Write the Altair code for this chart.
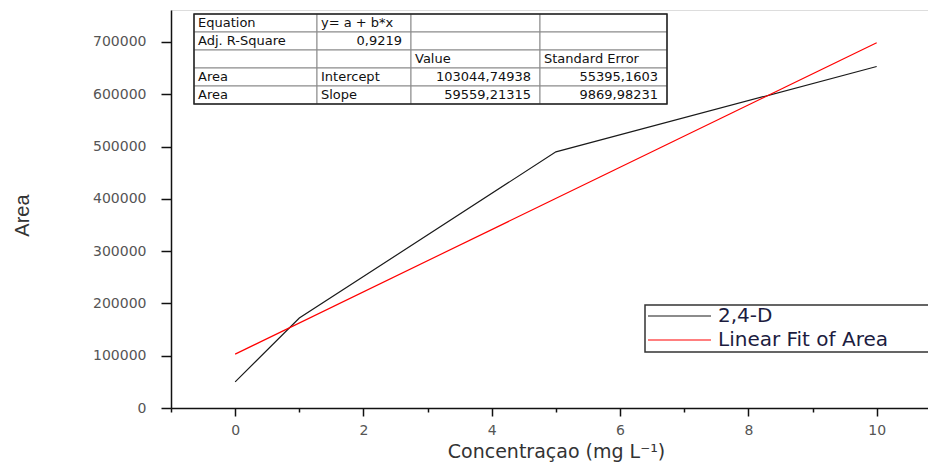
import altair as alt
import pandas as pd

# ---------------- data ----------------
conc = [0, 1, 5, 10]
area = [50000, 172000, 490000, 653100]

table_rows = [
    ["Equation", "y= a + b*x", "", ""],
    ["Adj. R-Square", "0,9219", "", ""],
    ["", "", "Value", "Standard Error"],
    ["Area", "Intercept", "103044,74938", "55395,1603"],
    ["Area", "Slope", "59559,21315", "9869,98231"],
]
table_align = [
    ["left", "left", "left", "left"],
    ["left", "right", "left", "left"],
    ["left", "left", "left", "left"],
    ["left", "left", "right", "right"],
    ["left", "left", "right", "right"],
]
legend_labels = ["2,4-D", "Linear Fit of Area"]

x_ticks = list(range(-1, 11))
y_ticks = list(range(0, 760000, 50000))

# ---------------- layout (pixels) ----------------
PL, PT = 171, 10           # plot origin on page
W, H = 757, 398
col_edges = [194, 317, 411, 540, 667]
row_edges = [14, 32, 50, 68, 86, 104]
legend_colors = ["#1a1a1a", "#ff0000"]
legend_rows_y = [316, 340]
legend_line_x = [648, 711]
legend_text_x = 718

df = pd.DataFrame({"conc": conc, "area": area})

cells = []
for r, row in enumerate(table_rows):
    for c, txt in enumerate(row):
        x0 = col_edges[c] - PL
        x1 = col_edges[c + 1] - PL
        y0 = row_edges[r] - PT
        y1 = row_edges[r + 1] - PT
        al = table_align[r][c]
        cells.append({
            "x0": x0, "x1": x1, "y0": y0, "y1": y1,
            "tx": x0 + 4 if al == "left" else x1 - 9,
            "ty": (y0 + y1) / 2, "txt": txt, "al": al,
        })
cells = pd.DataFrame(cells)

leg = pd.DataFrame({
    "label": legend_labels,
    "color": legend_colors,
    "y": [v - PT for v in legend_rows_y],
    "lx0": [legend_line_x[0] - PL] * 2,
    "lx1": [legend_line_x[1] - PL] * 2,
    "tx": [legend_text_x - PL] * 2,
})

FONT = "DejaVu Sans"

x_axis = alt.Axis(
    values=x_ticks, format="d",
    labelExpr="datum.value >= 0 && datum.value % 2 == 0 ? datum.label : ''",
    tickSize={"condition": {"test": "datum.value % 2 == 0", "value": 8}, "value": 4},
    grid=False, domainColor="#111", domainWidth=1.5, tickColor="#111", tickWidth=1.5,
    labelColor="#555", labelFont=FONT, labelFontSize=14, labelPadding=7,
    labelOverlap=False, labelFlush=False,
    title="Concentraçao (mg L⁻¹)", titleFont=FONT, titleFontSize=19,
    titleFontWeight="normal", titleColor="#333",
    titleX=385, titleY=43, titleBaseline="middle", titleAlign="center",
)
y_axis = alt.Axis(
    values=y_ticks, format="d",
    labelExpr="datum.value % 100000 == 0 ? datum.label : ''",
    tickSize={"condition": {"test": "datum.value % 100000 == 0", "value": 10}, "value": 5},
    grid=False, domainColor="#111", domainWidth=1.5, tickColor="#111", tickWidth=1.5,
    labelColor="#555", labelFont=FONT, labelFontSize=14, labelPadding=15,
    labelOverlap=False, labelFlush=False,
    title="Area", titleFont="Liberation Sans", titleFontSize=20,
    titleFontWeight="normal", titleColor="#333",
    titleX=22 - PL, titleY=215 - PT, titleAngle=270,
    titleBaseline="middle", titleAlign="center",
)

base = alt.Chart(df)
xs = alt.Scale(domain=[-1, 10.8], nice=False, zero=False)
ys = alt.Scale(domain=[0, 761200], nice=False)

line = base.mark_line(color="#1a1a1a", strokeWidth=1.2).encode(
    x=alt.X("conc:Q", scale=xs, axis=x_axis),
    y=alt.Y("area:Q", scale=ys, axis=y_axis),
)
fit = base.transform_regression("conc", "area", extent=[0, 10]).mark_line(
    color="#ff0000", strokeWidth=1.2
).encode(x="conc:Q", y="area:Q")

tbl = alt.Chart(cells)
cell_rects = tbl.mark_rect(fill="white", stroke="#8a8a8a", strokeWidth=1).encode(
    x=alt.X("x0:Q", scale=None), x2="x1:Q",
    y=alt.Y("y0:Q", scale=None), y2="y1:Q",
)
outer = alt.Chart(pd.DataFrame({"a": [0]})).mark_rect(
    fill=None, stroke="#222", strokeWidth=1.5
).encode(
    x=alt.value(col_edges[0] - PL), x2=alt.value(col_edges[-1] - PL),
    y=alt.value(row_edges[0] - PT), y2=alt.value(row_edges[-1] - PT),
)
txt_left = tbl.transform_filter("datum.al == 'left'").mark_text(
    align="left", baseline="middle", font=FONT, fontSize=13, color="#111"
).encode(x=alt.X("tx:Q", scale=None), y=alt.Y("ty:Q", scale=None), text="txt:N")
txt_right = tbl.transform_filter("datum.al == 'right'").mark_text(
    align="right", baseline="middle", font=FONT, fontSize=13, color="#111"
).encode(x=alt.X("tx:Q", scale=None), y=alt.Y("ty:Q", scale=None), text="txt:N")

leg_box = alt.Chart(pd.DataFrame({"a": [0]})).mark_rect(
    fill="white", stroke="#333", strokeWidth=1.5
).encode(
    x=alt.value(645 - PL), x2=alt.value(980 - PL),
    y=alt.value(305 - PT), y2=alt.value(352 - PT),
)
lg = alt.Chart(leg)
leg_lines = lg.mark_rule(strokeWidth=1.2).encode(
    x=alt.X("lx0:Q", scale=None), x2="lx1:Q",
    y=alt.Y("y:Q", scale=None),
    color=alt.Color("color:N", scale=None),
)
leg_text = lg.mark_text(
    align="left", baseline="middle", font=FONT, fontSize=20, color="#1c1c40"
).encode(x=alt.X("tx:Q", scale=None), y=alt.Y("y:Q", scale=None), text="label:N")

chart = alt.layer(
    line, fit, cell_rects, outer, txt_left, txt_right, leg_box, leg_lines, leg_text
).properties(
    width=W, height=H,
    autosize=alt.AutoSizeParams(type="none"),
    padding={"left": PL - 8, "top": PT - 8, "right": 0, "bottom": 57},
).configure_view(stroke=None).configure(background="white")

chart.save("out.html", embed_options={"renderer": "svg", "actions": False})
